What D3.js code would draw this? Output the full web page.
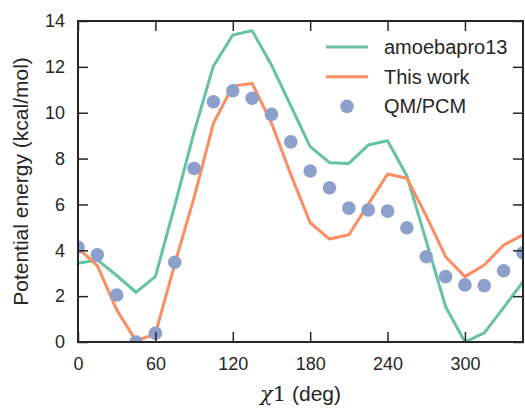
<!DOCTYPE html>
<html>
<head>
<meta charset="utf-8">
<script src="https://cdn.jsdelivr.net/npm/d3@7"></script>
<style>
  body { margin: 0; background: #fff; }
  svg { font-family: "Liberation Sans", Arial, sans-serif; }
</style>
</head>
<body>
<div id="chart"></div>
<script>
'use strict';
// chi1 scan, every 15 degrees
var angles = [0, 15, 30, 45, 60, 75, 90, 105, 120, 135, 150, 165,
              180, 195, 210, 225, 240, 255, 270, 285, 300, 315, 330, 345];
var amoebapro13 = [3.43, 3.58, 2.9, 2.17, 2.85, 5.95, 9.15, 12.04, 13.39, 13.58, 12.08, 10.3,
                   8.52, 7.82, 7.79, 8.59, 8.78, 7.24, 4.4, 1.54, 0.0, 0.4, 1.5, 2.63];
var thisWork = [4.1, 3.33, 1.4, 0.05, 0.35, 3.4, 6.3, 9.54, 11.16, 11.28, 9.55, 7.3,
                5.2, 4.49, 4.68, 6.0, 7.33, 7.14, 5.5, 3.72, 2.85, 3.36, 4.23, 4.67];
var qmPcm = [4.13, 3.8, 2.05, 0.0, 0.38, 3.48, 7.57, 10.48, 10.96, 10.63, 9.93, 8.73,
             7.46, 6.73, 5.84, 5.76, 5.71, 4.98, 3.72, 2.85, 2.49, 2.46, 3.11, 3.89];
var xTicks = [0, 60, 120, 180, 240, 300];
var yTicks = [0, 2, 4, 6, 8, 10, 12, 14];
var seriesNames = ['amoebapro13', 'This work', 'QM/PCM'];
var colors = ['#66c2a5', '#fc8d62', '#8da0cb'];

var W = 525, H = 408;
var margin = {top: 21, right: 2, bottom: 66, left: 78};
var w = W - margin.left - margin.right;
var h = H - margin.top - margin.bottom;
var ink = '#262626';

var svg = d3.select('#chart').append('svg')
  .attr('width', W)
  .attr('height', H);

var g = svg.append('g')
  .attr('transform', 'translate(' + margin.left + ',' + margin.top + ')');

var x = d3.scaleLinear().domain([0, 345]).range([0, w]);
var y = d3.scaleLinear().domain([0, 14]).range([h, 0]);

svg.append('defs').append('clipPath').attr('id', 'plot')
  .append('rect').attr('width', w).attr('height', h);

var plot = g.append('g').attr('clip-path', 'url(#plot)');

var line = d3.line()
  .x(function(d, i) { return x(angles[i]); })
  .y(function(d) { return y(d); });

[amoebapro13, thisWork].forEach(function(vals, k) {
  plot.append('path')
    .datum(vals)
    .attr('d', line)
    .attr('fill', 'none')
    .attr('stroke', colors[k])
    .attr('stroke-width', 3)
    .attr('stroke-linejoin', 'round');
});

plot.selectAll('circle.qm')
  .data(qmPcm)
  .enter().append('circle')
  .attr('class', 'qm')
  .attr('cx', function(d, i) { return x(angles[i]); })
  .attr('cy', function(d) { return y(d); })
  .attr('r', 6.8)
  .attr('fill', colors[2]);

// axes, ticks pointing inward on all four sides
function styleAxis(sel) {
  sel.select('.domain').remove();
  sel.selectAll('.tick line').attr('stroke', ink).attr('stroke-width', 1.5);
  sel.selectAll('.tick text').attr('fill', ink).style('font-size', '18px');
}

g.append('g')
  .attr('transform', 'translate(0,' + h + ')')
  .call(d3.axisBottom(x).tickValues(xTicks).tickSize(-10).tickPadding(15))
  .call(styleAxis);

g.append('g')
  .call(d3.axisTop(x).tickValues(xTicks).tickSize(-10).tickFormat(''))
  .call(styleAxis);

g.append('g')
  .call(d3.axisLeft(y).tickValues(yTicks).tickSize(-10).tickPadding(13))
  .call(styleAxis);

g.append('g')
  .attr('transform', 'translate(' + w + ',0)')
  .call(d3.axisRight(y).tickValues(yTicks).tickSize(-10).tickFormat(''))
  .call(styleAxis);

g.append('rect')
  .attr('width', w)
  .attr('height', h)
  .attr('fill', 'none')
  .attr('stroke', ink)
  .attr('stroke-width', 2);

// axis labels
var xl = svg.append('text')
  .attr('x', margin.left + w / 2)
  .attr('y', 401)
  .attr('text-anchor', 'middle')
  .attr('fill', ink)
  .style('font-size', '21px');
xl.append('tspan')
  .style('font-family', '"DejaVu Serif", serif')
  .style('font-style', 'italic')
  .text('χ');
xl.append('tspan')
  .style('font-family', '"DejaVu Serif", serif')
  .text('1');
xl.append('tspan').text(' (deg)');

svg.append('text')
  .attr('transform', 'translate(28,' + (margin.top + h / 2) + ') rotate(-90)')
  .attr('text-anchor', 'middle')
  .attr('fill', ink)
  .style('font-size', '21px')
  .text('Potential energy (kcal/mol)');

// legend
var legend = svg.append('g').attr('transform', 'translate(326,47)');
seriesNames.forEach(function(name, i) {
  var row = legend.append('g').attr('transform', 'translate(0,' + (i * 29.7) + ')');
  if (i < 2) {
    row.append('line')
      .attr('x1', 0).attr('x2', 42)
      .attr('stroke', colors[i])
      .attr('stroke-width', 3);
  } else {
    row.append('circle')
      .attr('cx', 21)
      .attr('r', 6.8)
      .attr('fill', colors[i]);
  }
  row.append('text')
    .attr('x', 58)
    .attr('dy', '0.35em')
    .attr('fill', ink)
    .style('font-size', '20px')
    .text(name);
});
</script>
</body>
</html>
